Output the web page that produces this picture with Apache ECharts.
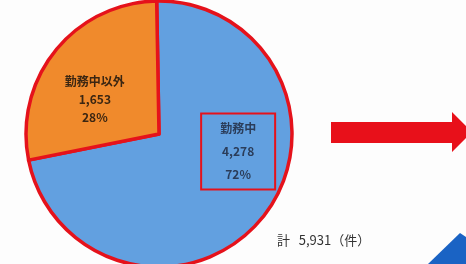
<!DOCTYPE html>
<html>
<head>
<meta charset="utf-8">
<script src="https://cdn.jsdelivr.net/npm/echarts@6/dist/echarts.min.js"></script>
<style>
  html, body { margin: 0; padding: 0; background: #fdfdfd; }
  #main { width: 466px; height: 264px; }
</style>
</head>
<body>
<div id="main"></div>
<script>
// 件数
const categories = ['勤務中', '勤務中以外'];
const counts = [4278, 1653];
const percents = ['72%', '28%'];
const totalUnit = '（件）';

const chart = echarts.init(document.getElementById('main'));

const total = counts.reduce(function (a, b) { return a + b; }, 0);
const red = '#e5121b';

const seriesData = categories.map(function (name, i) {
  const item = { name: name, value: counts[i], pct: percents[i] };
  if (i === 0) {
    item.itemStyle = { color: '#62a0e0' };
    item.label = {
      color: '#2b3d5a',
      lineHeight: 23,
      borderColor: red,
      borderWidth: 2,
      padding: [4, 19, 3, 19]
    };
  } else {
    item.itemStyle = { color: '#f08a2c' };
    item.label = { color: '#3b2612', lineHeight: 18 };
  }
  return item;
});

const option = {
  backgroundColor: '#fdfdfd',
  animation: false,
  series: [
    {
      type: 'pie',
      center: [159, 134],
      radius: 133,
      startAngle: 91,
      clockwise: true,
      data: seriesData,
      itemStyle: {
        borderColor: red,
        borderWidth: 3.5
      },
      label: {
        show: true,
        position: 'inside',
        fontFamily: 'Noto Sans CJK JP',
        fontSize: 12,
        fontWeight: 'bold',
        formatter: function (p) {
          return p.name + '\n' + p.value.toLocaleString('en-US') + '\n' + p.data.pct;
        }
      },
      labelLayout: function (params) {
        // ずらし
        if (params.dataIndex === 0) return { dx: 25, dy: -26 };
        return { dx: -10, dy: 9 };
      },
      emphasis: { disabled: true }
    }
  ],
  graphic: [
    {
      type: 'text',
      left: 277,
      top: 234,
      style: {
        text: '計   ' + total.toLocaleString('en-US') + totalUnit,
        fill: '#333',
        font: '13px "Noto Sans CJK JP"'
      }
    },
    {
      type: 'polygon',
      shape: {
        points: [[331, 122], [452, 122], [452, 112], [472, 132], [452, 152], [452, 143], [331, 143]]
      },
      style: { fill: '#e8101a' }
    },
    {
      type: 'polygon',
      shape: {
        points: [[428, 264], [460, 233], [466, 237], [466, 264]]
      },
      style: { fill: '#1a63c4' }
    }
  ]
};

chart.setOption(option);
</script>
</body>
</html>
